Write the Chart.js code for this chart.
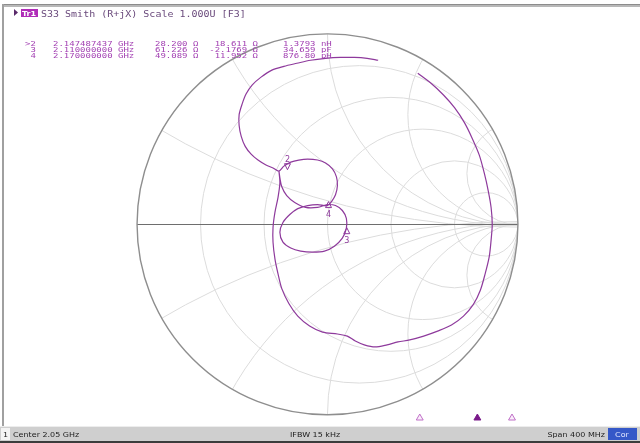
<!DOCTYPE html>
<html>
<head>
<meta charset="utf-8">
<script src="https://cdn.jsdelivr.net/npm/chart.js@4.4.1/dist/chart.umd.min.js"></script>
<style>
  html, body { margin: 0; padding: 0; background: #fff; }
  #wrap { width: 640px; height: 443px; }
</style>
</head>
<body>
<div id="wrap"><canvas id="c" width="640" height="443"></canvas></div>
<script>
const traceRe = [0.266, 0.208, 0.141, 0.068, -0.010, -0.089, -0.161, -0.229, -0.292, -0.349, -0.396, -0.427, -0.448, -0.464, -0.464, -0.453, -0.432, -0.401, -0.365, -0.323, -0.286, -0.255,
  -0.229, -0.193, -0.151, -0.104, -0.052, -0.010, 0.026, 0.047, 0.052, 0.042, 0.021, 0.000,
  -0.052, -0.104, -0.156, -0.198, -0.234, -0.250, -0.234, -0.193, -0.141, -0.078, -0.016, 0.036, 0.078, 0.099, 0.099, 0.078, 0.042, 0.000,
  -0.052, -0.115, -0.172, -0.214, -0.240, -0.250, -0.255,
  -0.250, -0.260, -0.276, -0.286, -0.286, -0.276, -0.260, -0.240, -0.203, -0.156, -0.094, -0.026, 0.052, 0.104, 0.146, 0.193, 0.250, 0.313, 0.370, 0.432, 0.505, 0.578, 0.651, 0.714, 0.766, 0.802, 0.828, 0.849, 0.859, 0.865, 0.859, 0.844, 0.823, 0.797, 0.760, 0.719, 0.667, 0.609, 0.542, 0.474];
const traceIm = [0.865, 0.875, 0.880, 0.880, 0.875, 0.865, 0.849, 0.833, 0.813, 0.776, 0.734, 0.688, 0.635, 0.578, 0.521, 0.464, 0.411, 0.370, 0.339, 0.313, 0.297, 0.281,
  0.307, 0.328, 0.339, 0.344, 0.339, 0.323, 0.292, 0.250, 0.203, 0.156, 0.120, 0.099,
  0.104, 0.099, 0.083, 0.052, 0.010, -0.042, -0.094, -0.125, -0.141, -0.146, -0.141, -0.115, -0.073, -0.021, 0.031, 0.073, 0.099, 0.104,
  0.089, 0.089, 0.115, 0.151, 0.198, 0.245, 0.281,
  0.219, 0.141, 0.063, -0.016, -0.094, -0.182, -0.260, -0.339, -0.417, -0.484, -0.536, -0.568, -0.578, -0.589, -0.615, -0.635, -0.646, -0.635, -0.620, -0.609, -0.589, -0.563, -0.531, -0.484, -0.422, -0.349, -0.260, -0.172, -0.083, 0.000, 0.089, 0.177, 0.271, 0.365, 0.453, 0.536, 0.615, 0.682, 0.745, 0.797];

// markers
const markerNo = ['2', '3', '4'];
const markerFreq = [2.147487437, 2.110000000, 2.170000000]; // GHz
const markerR = [28.200, 61.226, 49.089];  // ohm
const markerX = [18.611, -2.1769, 11.952]; // ohm
const markerLC = ['1.3793 nH', '34.659 pF', '876.80 pH'];
const activeMarker = '2';

// smith grid (normalised resistance / reactance)
const gridR = [0.2, 0.5, 1, 2, 5];
const gridX = [0.27, 0.58, 1, 1.73, 3.73];

// stimulus
const centerGHz = 2.05;
const spanMHz = 400;
const ifbwKHz = 15;
const z0 = 50;

// screen layout
const W = 640, H = 443;
const CX = 330, CY = 222, RAD = 192;
const PAD = { left: 20, top: 0, right: 0, bottom: 25 };

const TRACE = '#8e3a9c';
const MKTXT = '#a23fb2';

function gamma(r, x) {
  const a = r / z0, b = x / z0;
  const nr = a - 1, ni = b, dr = a + 1, di = b;
  const d = dr * dr + di * di;
  return { x: (nr * dr + ni * di) / d, y: (ni * dr - nr * di) / d };
}

const markerPts = markerR.map((r, i) => gamma(r, markerX[i]));
const fStart = centerGHz - spanMHz / 2000;
const fStop = centerGHz + spanMHz / 2000;

const screen = {
  id: 'screen',
  beforeDraw(chart) {
    const ctx = chart.ctx;
    ctx.save();
    ctx.fillStyle = '#fff';
    ctx.fillRect(0, 0, W, H);
    // frame
    ctx.fillStyle = '#8c8c8c';
    ctx.fillRect(2, 4, W - 2, 1);
    ctx.fillStyle = '#b8b8b8';
    ctx.fillRect(2, 5, W - 2, 2);
    ctx.fillStyle = '#a0a0a0';
    ctx.fillRect(2, 4, 2, 422);
    ctx.restore();
  },
  beforeDatasetsDraw(chart) {
    const ctx = chart.ctx;
    const sx = chart.scales.x, sy = chart.scales.y;
    const px = v => sx.getPixelForValue(v), py = v => sy.getPixelForValue(v);
    const u = px(1) - px(0);
    ctx.save();
    ctx.beginPath();
    ctx.arc(px(0), py(0), u, 0, Math.PI * 2);
    ctx.clip();
    ctx.strokeStyle = '#dcdcdc';
    ctx.lineWidth = 1;
    gridR.forEach(r => {
      ctx.beginPath();
      ctx.arc(px(r / (1 + r)), py(0), u / (1 + r), 0, Math.PI * 2);
      ctx.stroke();
    });
    gridX.forEach(x => {
      [x, -x].forEach(v => {
        ctx.beginPath();
        ctx.arc(px(1), py(1 / v), u / Math.abs(v), 0, Math.PI * 2);
        ctx.stroke();
      });
    });
    ctx.restore();
    ctx.save();
    ctx.strokeStyle = '#6e6e6e';
    ctx.lineWidth = 1;
    ctx.beginPath();
    ctx.moveTo(px(-1), Math.round(py(0)) + 0.5);
    ctx.lineTo(px(1), Math.round(py(0)) + 0.5);
    ctx.stroke();
    ctx.strokeStyle = '#8e8e8e';
    ctx.lineWidth = 1.4;
    ctx.beginPath();
    ctx.arc(px(0), py(0), u, 0, Math.PI * 2);
    ctx.stroke();
    ctx.restore();
  },
  afterDraw(chart) {
    const ctx = chart.ctx;
    const sx = chart.scales.x, sy = chart.scales.y;
    ctx.save();
    ctx.textBaseline = 'alphabetic';

    // markers on the smith chart
    markerNo.forEach((n, i) => {
      const x = sx.getPixelForValue(markerPts[i].x);
      const y = sy.getPixelForValue(markerPts[i].y);
      const up = n === activeMarker;
      const s = up ? -1 : 1;
      ctx.strokeStyle = TRACE;
      ctx.lineWidth = 1;
      ctx.beginPath();
      ctx.moveTo(x, y);
      ctx.lineTo(x - 3, y + s * 6);
      ctx.lineTo(x + 3, y + s * 6);
      ctx.closePath();
      ctx.stroke();
      ctx.fillStyle = TRACE;
      ctx.font = '8px "DejaVu Sans"';
      ctx.textAlign = 'center';
      ctx.fillText(n, x, up ? y - 8 : y + 15);
    });

    // header
    ctx.fillStyle = '#5a2a6a';
    ctx.beginPath();
    ctx.moveTo(14, 9); ctx.lineTo(18, 12.5); ctx.lineTo(14, 16); ctx.closePath();
    ctx.fill();
    ctx.fillStyle = '#b02cb8';
    ctx.fillRect(21, 9, 17, 8);
    ctx.textAlign = 'left';
    ctx.save();
    ctx.scale(1, 0.8);
    ctx.font = 'bold 8px "DejaVu Sans"';
    ctx.fillStyle = '#ffffff';
    ctx.fillText('Tr1', 22, 16.2 / 0.8);
    ctx.font = '10px "DejaVu Sans Mono"';
    ctx.fillStyle = '#6a4a7c';
    ctx.fillText('S33 Smith (R+jX) Scale 1.000U [F3]', 41, 16.5 / 0.8);
    ctx.restore();

    // marker readout
    ctx.save();
    ctx.scale(1, 0.8);
    ctx.font = '9px "DejaVu Sans Mono"';
    ctx.fillStyle = MKTXT;
    markerNo.forEach((n, i) => {
      const yb = (46 + i * 6) / 0.8;
      ctx.textAlign = 'left';
      ctx.fillText((n === activeMarker ? '>' : ' ') + n, 25, yb);
      ctx.fillText(markerFreq[i].toFixed(9) + ' GHz', 53, yb);
      ctx.fillText(markerR[i].toPrecision(5) + ' \u03A9', 155, yb);
      ctx.textAlign = 'right';
      ctx.fillText(markerX[i].toPrecision(5) + ' \u03A9', 258, yb);
      ctx.textAlign = 'left';
      ctx.fillText(markerLC[i], 283, yb);
    });
    ctx.restore();

    // status bar
    ctx.fillStyle = '#cfcfcf';
    ctx.fillRect(0, 426, W, 15);
    ctx.fillStyle = '#ededed';
    ctx.fillRect(0, 426, W, 1);
    ctx.fillStyle = '#3c3c3c';
    ctx.fillRect(0, 441, W, 2);
    ctx.fillStyle = '#f4f4f4';
    ctx.fillRect(1, 428, 9, 12);
    ctx.save();
    ctx.scale(1, 0.8);
    ctx.font = '8px "DejaVu Sans"';
    ctx.fillStyle = '#202020';
    ctx.textAlign = 'left';
    const yb = 437 / 0.8;
    ctx.fillText('1', 3, yb);
    ctx.fillText('Center ' + centerGHz.toFixed(2) + ' GHz', 13, yb);
    ctx.fillText('IFBW ' + ifbwKHz + ' kHz', 290, yb);
    ctx.textAlign = 'right';
    ctx.fillText('Span ' + spanMHz + ' MHz', 605, yb);
    ctx.restore();
    ctx.fillStyle = '#3558c8';
    ctx.fillRect(608, 428, 29, 12);
    ctx.save();
    ctx.scale(1, 0.8);
    ctx.font = '8px "DejaVu Sans"';
    ctx.fillStyle = '#e0e6ff';
    ctx.textAlign = 'center';
    ctx.fillText('Cor', 622, yb);
    ctx.restore();
    ctx.restore();
  }
};

const xMin = -(CX - PAD.left) / RAD, xMax = (W - PAD.right - CX) / RAD;
const yMax = (CY - PAD.top) / RAD, yMin = -(H - PAD.bottom - CY) / RAD;

new Chart(document.getElementById('c'), {
  type: 'scatter',
  data: {
    datasets: [
      {
        label: 'S33',
        data: traceRe.map((r, i) => ({ x: r, y: traceIm[i] })),
        showLine: true,
        borderColor: TRACE,
        borderWidth: 1.2,
        pointRadius: 0,
        tension: 0.3,
        clip: false
      },
      {
        label: 'stimulus markers',
        data: markerFreq.map(f => ({ x: f, y: 0 })),
        xAxisID: 'f',
        yAxisID: 'fy',
        pointStyle: 'triangle',
        pointRadius: 4,
        borderWidth: 1,
        borderColor: markerNo.map(n => n === activeMarker ? '#7a1a8a' : '#c070c8'),
        backgroundColor: markerNo.map(n => n === activeMarker ? '#7a1a8a' : '#fbeefb'),
        clip: false
      }
    ]
  },
  options: {
    responsive: false,
    animation: false,
    layout: { padding: PAD },
    plugins: {
      legend: { display: false },
      title: { display: false },
      tooltip: { enabled: false }
    },
    scales: {
      x: { type: 'linear', min: xMin, max: xMax, display: false },
      y: { type: 'linear', min: yMin, max: yMax, display: false },
      f: { type: 'linear', axis: 'x', min: fStart, max: fStop, display: false },
      fy: { type: 'linear', axis: 'y', min: 0, max: 1, display: false }
    }
  },
  plugins: [screen]
});
</script>
</body>
</html>
